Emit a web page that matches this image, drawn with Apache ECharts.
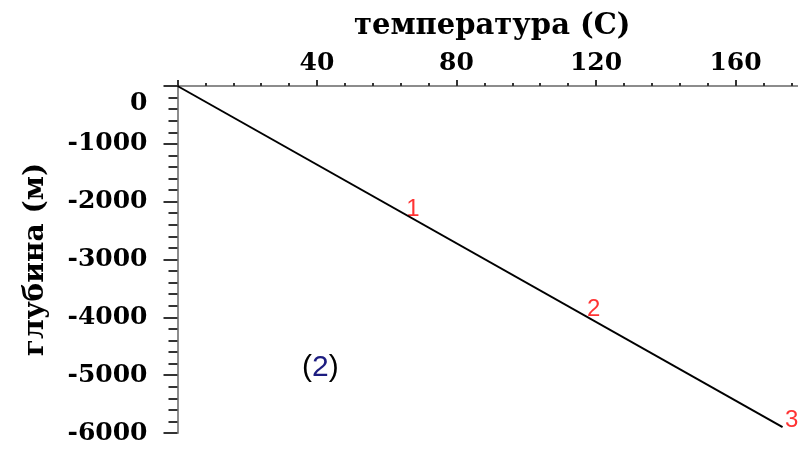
<!DOCTYPE html>
<html>
<head>
<meta charset="utf-8">
<script src="https://cdn.jsdelivr.net/npm/echarts@6/dist/echarts.min.js"></script>
<style>
  html, body { margin: 0; padding: 0; background: #ffffff; }
  #chart { width: 798px; height: 452px; }
</style>
</head>
<body>
<div id="chart"></div>
<script>
// Temperature vs depth profile with three marked levels
const xTitle = 'температура (С)';
const yTitle = 'глубина (м)';

// straight geotherm: temperature (C) and depth (m)
const profileTemp = [0, 173.5];
const profileDepth = [0, -5900];

// numbered marks along the profile
const pointNames = ['1', '2', '3'];
const pointTemp = [67.5, 119.3, 176.1];
const pointDepth = [-2140, -3870, -5775];

const panelTag = '2';

const serifBold = { fontFamily: 'DejaVu Serif', fontWeight: 'bold', color: '#000' };

const chart = echarts.init(document.getElementById('chart'), null, { renderer: 'canvas' });

chart.setOption({
  animation: false,
  backgroundColor: '#ffffff',
  // the temperature axis runs on past the right edge of the canvas
  grid: {
    left: 177.5, width: 697.5, top: 86, bottom: 19,
    containLabel: false,
    outerBoundsMode: 'none'
  },
  xAxis: {
    type: 'value',
    position: 'top',
    min: 0,
    max: 200,
    interval: 40,
    name: xTitle,
    nameLocation: 'middle',
    nameGap: 45,
    // right padding pulls the title back over the visible part of the axis
    nameTextStyle: Object.assign({ fontSize: 29, padding: [0, 68, 0, 0] }, serifBold),
    axisLine: { onZero: true, lineStyle: { color: '#8c8c8c', width: 2 } },
    axisTick: { length: 6, lineStyle: { color: '#333', width: 2 } },
    minorTick: { show: true, splitNumber: 5, length: 3, lineStyle: { color: '#333', width: 2 } },
    axisLabel: Object.assign({
      fontSize: 25,
      margin: 10,
      formatter: v => (v === 0 || v === 200 ? '' : String(v))
    }, serifBold),
    splitLine: { show: false }
  },
  yAxis: {
    type: 'value',
    min: -6000,
    max: 0,
    interval: 1000,
    name: yTitle,
    nameLocation: 'middle',
    nameGap: 128,
    nameRotate: 90,
    nameTextStyle: Object.assign({ fontSize: 28 }, serifBold),
    axisLine: { onZero: false, lineStyle: { color: '#8c8c8c', width: 2 } },
    axisTick: { length: 14, lineStyle: { color: '#333', width: 2 } },
    minorTick: { show: true, splitNumber: 5, length: 9, lineStyle: { color: '#333', width: 2 } },
    axisLabel: Object.assign({
      fontSize: 25,
      margin: 30,
      formatter: v => (v === 0 ? '{z|0}' : String(v)),
      rich: {
        z: Object.assign({ fontSize: 25, padding: [34, 0, 0, 0] }, serifBold)
      }
    }, serifBold),
    splitLine: { show: false }
  },
  series: [
    {
      type: 'line',
      data: profileTemp.map((t, i) => [t, profileDepth[i]]),
      symbol: 'none',
      lineStyle: { color: '#000', width: 2 },
      clip: false
    },
    {
      type: 'scatter',
      data: pointTemp.map((t, i) => ({ name: pointNames[i], value: [t, pointDepth[i]] })),
      symbolSize: 0,
      clip: false,
      label: {
        show: true,
        position: 'inside',
        formatter: p => p.name,
        fontFamily: 'Liberation Sans',
        fontSize: 24,
        color: '#ff0000'
      }
    }
  ],
  graphic: [
    {
      type: 'text',
      left: 302,
      top: 353,
      style: {
        text: '{p|(}{n|' + panelTag + '}{p|)}',
        rich: {
          p: { fontFamily: 'Liberation Sans', fontSize: 30, fill: '#000' },
          n: { fontFamily: 'Liberation Sans', fontSize: 30, fill: '#1c1c80' }
        }
      }
    }
  ]
});
</script>
</body>
</html>
